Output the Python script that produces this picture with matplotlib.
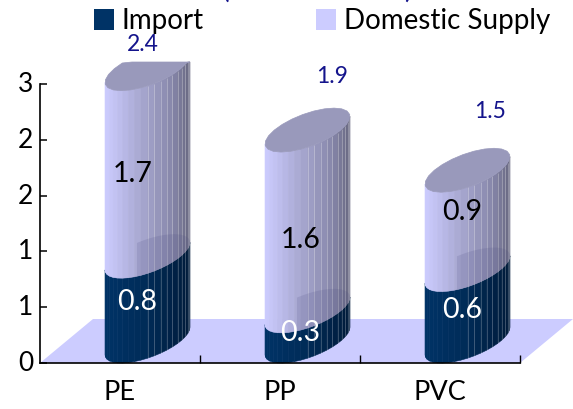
import numpy as np
import matplotlib
matplotlib.use("Agg")
import matplotlib.pyplot as plt
from matplotlib.patches import Polygon, Rectangle
from matplotlib.colors import to_rgb
from matplotlib.transforms import ScaledTranslation

plt.rcParams['font.family'] = ['Lato', 'DejaVu Sans']

categories = ["PE", "PP", "PVC"]
import_vals = [0.76, 0.27, 0.64]
domestic_vals = [1.68, 1.62, 0.89]
total_vals = [2.44, 1.89, 1.53]
ytick_values = [0, 0.5, 1, 1.5, 2, 2.5]
ytick_labels = ["0", "1", "1", "2", "2", "3"]

# label offsets in pixels (right, up) from the natural anchor
import_off = [(17, 19), (20, 15), (22, 17)]
domestic_off = [(13, 10), (21, 2), (22, 30)]
total_off = [(23, 46), (52, 76), (50, 81)]

W, H = 573, 409
fig = plt.figure(figsize=(W / 100, H / 100), dpi=100)
ax = fig.add_axes([40 / W, 1 - 363 / H, 480 / W, 279 / H])
ax.set_xlim(0, 3)
ax.set_ylim(0, 2.5)
px_x, px_y = 3 / 480, 2.5 / 279
YMAX = 301 * px_y  # plot area ends here, columns are cut by it

# oblique projection, in pixels
DX, DY = 53, 44
BX, BY = DX / 2, DY / 2
R = 42.5
A = np.sqrt(R ** 2 - BX ** 2)
DELTA = np.arctan2(BX, A)
NF = 20

def lerp(stops, f):
    xs = [s[0] for s in stops]
    cols = np.array([to_rgb(s[1]) for s in stops])
    return tuple(np.interp(f, xs, cols[:, k]) for k in range(3))

LIGHT = [(0, "#CCCCFF"), (0.12, "#C2C2F2"), (0.45, "#A5A5CD"), (0.8, "#8585A8"), (1, "#66667F")]
DARK = [(0, "#003366"), (0.45, "#002C59"), (1, "#001B3A")]

def ell(cx, y, t):
    """point on the ellipse whose front-most point is at (cx, y)"""
    x = cx + (1 + BX + A * np.cos(t) + BX * np.sin(t)) * px_x
    yy = y + (BY + BY * np.sin(t)) * px_y
    return x, np.minimum(yy, YMAX)

ts = np.linspace(np.pi + DELTA, 2 * np.pi + DELTA, NF + 1)

def side(cx, y0, y1, stops, z, edge_alpha):
    for i in range(NF):
        t0, t1 = ts[i], ts[i + 1]
        x0, b0 = ell(cx, y0, t0)
        x1, b1 = ell(cx, y0, t1)
        _, u0 = ell(cx, y1, t0)
        _, u1 = ell(cx, y1, t1)
        f = 0.5 * (np.cos(t0 - DELTA) + np.cos(t1 - DELTA)) * 0.5 + 0.5
        c = lerp(stops, f)
        ax.add_patch(Polygon([(x0, b0), (x1, b1), (x1, u1), (x0, u0)], closed=True,
                             fc=c, ec=c, lw=0.4, clip_on=False, zorder=z))
        if f > 0.42 and i < NF - 1:
            ax.plot([x1, x1], [u1, b1], color="white", alpha=edge_alpha, lw=0.6,
                    clip_on=False, zorder=z + 0.1, solid_capstyle="butt")

def cap(cx, y, color, z):
    t = np.linspace(0, 2 * np.pi, 25)
    x, yy = ell(cx, y, t)
    ax.add_patch(Polygon(np.c_[x, yy], closed=True, fc=color, ec=color, lw=0.5,
                         clip_on=False, zorder=z))

# floor
ax.add_patch(Polygon([(0, 0), (3, 0), (3 + DX * px_x, DY * px_y), (DX * px_x, DY * px_y)],
                     closed=True, fc="#CCCCFF", ec="none", clip_on=False, zorder=1))

# columns
for i, (imp, dom, tot) in enumerate(zip(import_vals, domestic_vals, total_vals)):
    cx = i + 0.5
    side(cx, 0, imp, DARK, 3, 0.25)
    top = imp + dom
    side(cx, imp, top, LIGHT, 3, 0.32)
    # right part of the import cap, seen through the domestic shell
    tv = np.linspace(0, 2 * np.pi, 120) + np.pi + DELTA
    x, yy = ell(cx, imp, tv)
    keep = x >= cx + 15 * px_x
    ax.add_patch(Polygon(np.c_[x[keep], yy[keep]], closed=True, fc="#4A4A80", ec="none",
                         alpha=0.16, clip_on=False, zorder=3.3))
    cap(cx, top, "#9999BB", 4)
    ax.text(cx + import_off[i][0] * px_x, imp / 2 + import_off[i][1] * px_y, f"{imp:.1f}",
            color="white", fontsize=20.5, ha="center", va="center", zorder=6)
    ax.text(cx + domestic_off[i][0] * px_x, imp + dom / 2 + domestic_off[i][1] * px_y, f"{dom:.1f}",
            color="black", fontsize=20.5, ha="center", va="center", zorder=6)
    ax.text(cx + total_off[i][0] * px_x, tot + total_off[i][1] * px_y, f"{tot:.1f}",
            color="#14148C", fontsize=16.5, ha="center", va="center", zorder=6)

# axes
for s in ("top", "right"):
    ax.spines[s].set_visible(False)
for s in ("left", "bottom"):
    ax.spines[s].set_linewidth(1.2)
    ax.spines[s].set_zorder(5)
ax.set_yticks(ytick_values, ytick_labels, fontsize=19)
ax.tick_params(axis="y", direction="in", length=5, width=1.1, pad=5)
for lab in ax.get_yticklabels():
    lab.set_transform(lab.get_transform() + ScaledTranslation(0, 2 / 100, fig.dpi_scale_trans))
ax.set_xticks([1, 2, 3])
ax.set_xticklabels([])
ax.tick_params(axis="x", direction="in", length=6, width=1.0)
ax.patch.set_alpha(0)
for i, c in enumerate(categories):
    ax.text(i + 0.5, -30 * px_y, c, ha="center", va="center", fontsize=19.5, clip_on=False)

# legend
for x0, label in [(94, "Import"), (316, "Domestic Supply")]:
    fig.patches.append(Rectangle((x0 / W, 1 - 30 / H), 20 / W, 21 / H, transform=fig.transFigure,
                                 fc="#003366" if label == "Import" else "#CCCCFF", ec="none"))
    fig.text((x0 + 28) / W, 1 - 21 / H, label, fontsize=20, ha="left", va="center")

# title cut by the top edge, as in the source picture
fig.text(317 / W, 1 + 2 / H, "(Unit: Mil. Ton)", color="#14148C", fontsize=21,
         ha="center", va="baseline")

fig.savefig("out.png", dpi=100)
